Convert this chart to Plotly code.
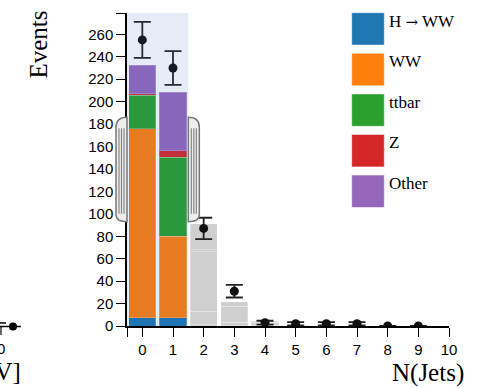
import plotly.graph_objects as go

# ---------------- data ----------------
n_jets = [0, 1, 2, 3, 4, 5, 6, 7, 8, 9]
series_names = ["H → WW", "WW", "ttbar", "Z", "Other"]
series_colors = ["#1f77b4", "#ff7f0e", "#2ca02c", "#d62728", "#9467bd"]
h_ww = [7.5, 7.5, 1.0, 0.3, 0.05, 0.02, 0.01, 0.0, 0.0, 0.0]
ww = [168.5, 72.5, 12.0, 3.0, 0.5, 0.1, 0.05, 0.02, 0.0, 0.0]
ttbar = [29.5, 70.5, 53.0, 14.0, 2.8, 0.6, 0.2, 0.1, 0.03, 0.01]
z_bkg = [1.5, 5.7, 2.0, 0.4, 0.1, 0.05, 0.02, 0.0, 0.0, 0.0]
other = [25.5, 52.2, 23.0, 4.0, 0.8, 0.2, 0.06, 0.03, 0.01, 0.0]
data_counts = [255, 230, 87, 31, 3, 2, 2, 2, 0, 0]
data_errors = [16, 15, 9.5, 5.6, 1.7, 1.4, 1.4, 1.4, 0, 0]
selected_bins = [0, 1]
x_ticks = [0, 1, 2, 3, 4, 5, 6, 7, 8, 9, 10]
y_ticks = [0, 20, 40, 60, 80, 100, 120, 140, 160, 180, 200, 220, 240, 260]

# ---------------- layout geometry (pixels) ----------------
WIDTH, HEIGHT = 477, 388
L, R, T, B = 127, 449, 13, 326
PW, PH = R - L, B - T
X_MIN, X_MAX = -0.5, 10
Y_MAX = 279
GRAY = "#cfcfcf"


def fx(px):
    return (px - L) / PW


def fy(py):
    return (B - py) / PH


def dx(v):
    return L + (v - X_MIN) / (X_MAX - X_MIN) * PW


fig = go.Figure()

stack = [h_ww, ww, ttbar, z_bkg, other]
for name, color, vals in zip(series_names, series_colors, stack):
    colors = [color if x in selected_bins else GRAY for x in n_jets]
    fig.add_trace(go.Bar(
        x=n_jets, y=vals, name=name,
        marker=dict(color=colors, line=dict(color="rgba(255,255,255,0.25)", width=1)),
        showlegend=False, hoverinfo="skip",
    ))

fig.add_trace(go.Scatter(
    x=n_jets, y=data_counts, mode="markers",
    marker=dict(color="#111", size=9),
    error_y=dict(type="data", array=data_errors, visible=True,
                 color="#222", thickness=1.8, width=8.5),
    showlegend=False, hoverinfo="skip",
))

shapes = []
# brush selection overlay
sel_lo, sel_hi = min(selected_bins) - 0.5, max(selected_bins) + 0.5
shapes.append(dict(type="rect", xref="x", yref="paper", x0=sel_lo, x1=sel_hi,
                   y0=0, y1=1, fillcolor="rgba(47,97,180,0.12)",
                   line=dict(width=0), layer="above"))


def handle(x0, s):
    yT, yB = T + PH / 3, T + 2 * PH / 3
    w, r, r2 = 11, 10, 7
    xo = x0 + s * w
    p = (f"M{fx(x0)},{fy(yT)} Q{fx(xo)},{fy(yT)} {fx(xo)},{fy(yT + r)} "
         f"L{fx(xo)},{fy(yB - r2)} Q{fx(xo)},{fy(yB)} {fx(x0)},{fy(yB)} Z")
    out = [dict(type="path", xref="paper", yref="paper", path=p,
                fillcolor="#eeeeee", line=dict(color="#777", width=1.5), layer="above")]
    for off in (3, 5.5, 8):
        xl = x0 + s * off
        out.append(dict(type="line", xref="paper", yref="paper",
                        x0=fx(xl), x1=fx(xl), y0=fy(yT + 11), y1=fy(yB - 8),
                        line=dict(color="#888", width=1.2), layer="above"))
    return out


shapes += handle(dx(sel_lo), -1)
shapes += handle(dx(sel_hi), +1)

annotations = []
# custom legend
for i, (name, color) in enumerate(zip(series_names, series_colors)):
    top = 12.7 + i * 40.6
    shapes.append(dict(type="rect", xref="paper", yref="paper",
                       x0=fx(351.7), x1=fx(384.3), y0=fy(top), y1=fy(top + 32.4),
                       fillcolor=color, line=dict(color="rgba(255,255,255,0.5)", width=1),
                       layer="above"))
    label = name.replace("→", "<span style='font-family:DejaVu Serif;font-size:15px'>→</span>")
    annotations.append(dict(xref="paper", yref="paper", x=fx(387), y=fy(top + 8.3),
                            text=label, showarrow=False, xanchor="left", yanchor="middle",
                            font=dict(family="Liberation Serif", size=17, color="#000")))

# axis titles
annotations.append(dict(xref="paper", yref="paper", x=fx(38), y=fy(44.5), text="Events",
                        textangle=-90, showarrow=False, xanchor="center", yanchor="middle",
                        font=dict(family="Liberation Serif", size=25, color="#000")))
annotations.append(dict(xref="paper", yref="paper", x=fx(466), y=fy(373), text="N(Jets)",
                        showarrow=False, xanchor="right", yanchor="middle",
                        font=dict(family="Liberation Serif", size=25, color="#000")))

# fragment of neighbouring chart at the left edge
annotations.append(dict(xref="paper", yref="paper", x=fx(23), y=fy(371), text="[GeV]",
                        showarrow=False, xanchor="right", yanchor="middle",
                        font=dict(family="Liberation Serif", size=25, color="#000")))
annotations.append(dict(xref="paper", yref="paper", x=fx(1), y=fy(348), text="0",
                        showarrow=False, xanchor="center", yanchor="middle",
                        font=dict(family="Liberation Sans", size=15, color="#000")))
shapes.append(dict(type="line", xref="paper", yref="paper", x0=fx(-5), x1=fx(21),
                   y0=fy(326.5), y1=fy(326.5), line=dict(color="#000", width=1.5)))
shapes.append(dict(type="line", xref="paper", yref="paper", x0=fx(1), x1=fx(1),
                   y0=fy(326.5), y1=fy(335), line=dict(color="#000", width=1.2)))
shapes.append(dict(type="line", xref="paper", yref="paper", x0=fx(0), x1=fx(6),
                   y0=fy(323), y1=fy(323), line=dict(color="#000", width=1.5)))
shapes.append(dict(type="circle", xref="paper", yref="paper", x0=fx(9), x1=fx(17),
                   y0=fy(322.5), y1=fy(330.5), fillcolor="#000", line=dict(width=0)))

fig.update_layout(
    width=WIDTH, height=HEIGHT,
    margin=dict(l=L, r=WIDTH - R, t=T, b=HEIGHT - B),
    paper_bgcolor="white", plot_bgcolor="white",
    barmode="stack", bargap=0.11,
    shapes=shapes, annotations=annotations,
    font=dict(family="Liberation Sans", size=15, color="#000"),
    xaxis=dict(range=[X_MIN, X_MAX], tickvals=[X_MIN] + x_ticks,
               ticktext=[""] + [str(v) for v in x_ticks],
               ticks="outside", ticklen=9, tickwidth=1.2, tickcolor="#000",
               showline=True, linecolor="#000", linewidth=1.5,
               showgrid=False, zeroline=False, tickfont=dict(size=15)),
    yaxis=dict(range=[0, Y_MAX], tickvals=y_ticks + [Y_MAX],
               ticktext=[str(v) for v in y_ticks] + [""],
               ticks="outside", ticklen=9, tickwidth=1.2, tickcolor="#000",
               showline=True, linecolor="#000", linewidth=1.5,
               showgrid=False, zeroline=False, tickfont=dict(size=15)),
)

fig.write_html("out.html", config={"displayModeBar": False},
               post_script="document.body.style.margin='0';")
